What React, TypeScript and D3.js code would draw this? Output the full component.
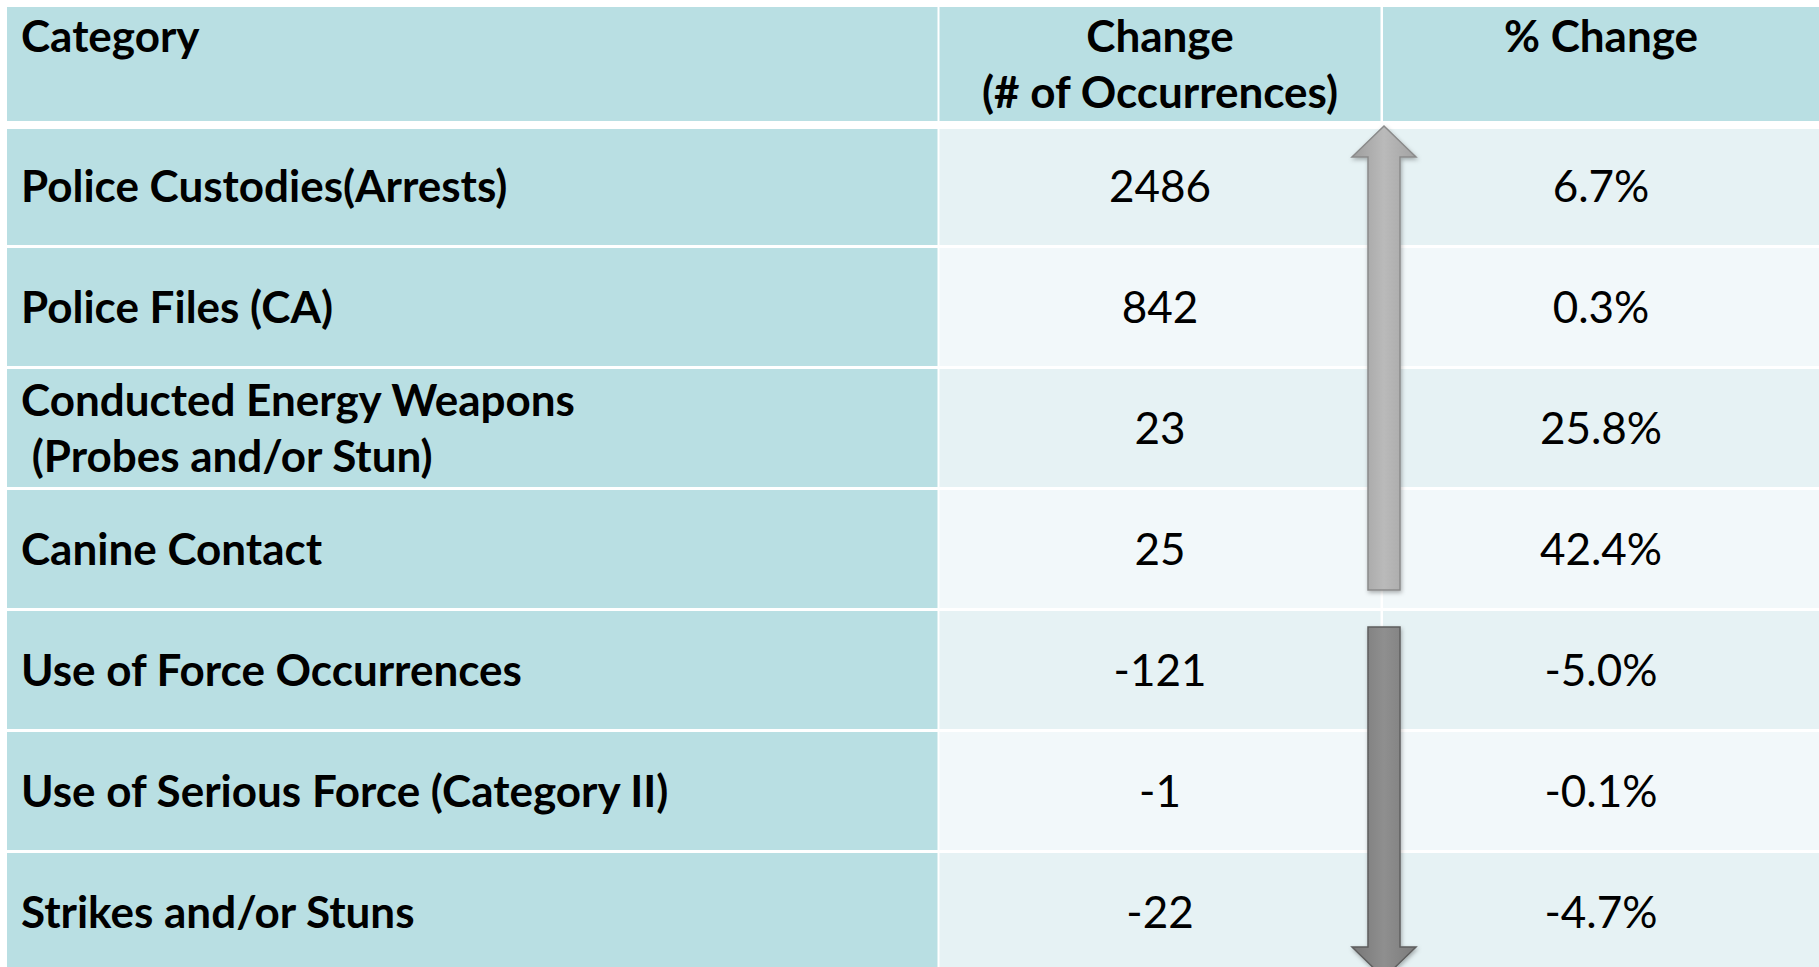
import * as d3 from 'd3'

// Table contents
const headers = ['Category', 'Change\n(# of Occurrences)', '% Change']
const categories = [
  'Police Custodies(Arrests)',
  'Police Files (CA)',
  'Conducted Energy Weapons\n (Probes and/or Stun)',
  'Canine Contact',
  'Use of Force Occurrences',
  'Use of Serious Force (Category II)',
  'Strikes and/or Stuns',
]
const changeCounts = [2486, 842, 23, 25, -121, -1, -22]
const pctChanges = [6.7, 0.3, 25.8, 42.4, -5.0, -0.1, -4.7]

const W = 1819
const H = 967
const FONT = 'Lato, "Open Sans", sans-serif'
const FS = 44
const LINE = 56
const HEAD_BASE = 51.5

// column edges (left, right)
const cols = [
  [7, 937.5],
  [939.5, 1380.5],
  [1383, 1830],
]
const headerTop = 7
const headerBottom = 121
const bodyTop = 129

const teal = '#b9dfe3'
const rowA = '#e6f2f4'
const rowB = '#f2f8fa'

function lines(s: string) {
  return s.split('\n')
}

export default function App() {
  const y = d3.scaleBand<string>()
    .domain(categories)
    .range([125.5, 125.5 + 121 * categories.length])
    .padding(0)
  const bw = y.bandwidth()

  const rows = categories.map((c, i) => ({
    c, i, change: changeCounts[i], pct: pctChanges[i],
  }))

  // arrows: one spanning the increases, one spanning the decreases
  const ups = rows.filter(r => r.pct >= 0)
  const downs = rows.filter(r => r.pct < 0)
  const cx = 1384
  const shaftHalf = 16
  const headHalf = 32
  const headLen = 31

  const line = d3.line<[number, number]>()
  const upTip = y(ups[0].c)! + 0.5
  const upEnd = y(ups[ups.length - 1].c)! + bw - 19.5
  const upPath = line([
    [cx, upTip], [cx + headHalf, upTip + headLen], [cx + shaftHalf, upTip + headLen],
    [cx + shaftHalf, upEnd], [cx - shaftHalf, upEnd], [cx - shaftHalf, upTip + headLen],
    [cx - headHalf, upTip + headLen],
  ]) + 'Z'
  const dnStart = y(downs[0].c)! + 17.5
  const dnBase = y(downs[downs.length - 1].c)! + 95.5
  const dnPath = line([
    [cx - shaftHalf, dnStart], [cx + shaftHalf, dnStart], [cx + shaftHalf, dnBase],
    [cx + headHalf, dnBase], [cx, dnBase + headLen], [cx - headHalf, dnBase],
    [cx - shaftHalf, dnBase],
  ]) + 'Z'

  const fmtPct = (v: number) => `${v.toFixed(1)}%`

  const textBlock = (s: string, x: number, midY: number, anchor: string, weight: number, key: string) => {
    const ls = lines(s)
    const first = midY - ((ls.length - 1) * LINE) / 2 + FS * 0.34
    return (
      <text key={key} x={x} y={first} textAnchor={anchor} fontFamily={FONT} fontSize={FS}
        fontWeight={weight} fill="#000" xmlSpace="preserve" style={{ whiteSpace: 'pre' }}>
        {ls.map((l, j) => (
          <tspan key={j} x={x} y={first + j * LINE}>{l}</tspan>
        ))}
      </text>
    )
  }

  return (
    <svg width={W} height={H} style={{ position: 'absolute', left: 0, top: 0, background: '#fff' }}>
      <defs>
        <linearGradient id="gUp" x1="0" x2="1" y1="0" y2="0">
          <stop offset="0" stopColor="#9d9d9d" />
          <stop offset="0.5" stopColor="#bababa" />
          <stop offset="1" stopColor="#a2a2a2" />
        </linearGradient>
        <linearGradient id="gDn" x1="0" x2="1" y1="0" y2="0">
          <stop offset="0" stopColor="#777" />
          <stop offset="0.5" stopColor="#8f8f8f" />
          <stop offset="1" stopColor="#7b7b7b" />
        </linearGradient>
        <filter id="shadow" x="-50%" y="-10%" width="200%" height="120%">
          <feDropShadow dx="1" dy="2" stdDeviation="2" floodColor="#000" floodOpacity="0.3" />
        </filter>
      </defs>
      <rect x={0} y={0} width={W} height={H} fill="#fff" />

      {/* header */}
      {headers.map((h, k) => (
        <rect key={'h' + k} x={cols[k][0]} y={headerTop} width={cols[k][1] - cols[k][0]}
          height={headerBottom - headerTop} fill={teal} />
      ))}
      {headers.map((h, k) => {
        const ls = lines(h)
        const x = k === 0 ? 21 : k === 1 ? (cols[1][0] + cols[1][1]) / 2 : 1601
        return (
          <text key={'ht' + k} x={x} y={HEAD_BASE} textAnchor={k === 0 ? 'start' : 'middle'}
            fontFamily={FONT} fontSize={FS} fontWeight={700} fill="#000">
            {ls.map((l, j) => <tspan key={j} x={x} y={HEAD_BASE + j * LINE}>{l}</tspan>)}
          </text>
        )
      })}

      {/* body rows */}
      {rows.map(r => {
        const top = Math.max(y(r.c)! + 1.5, bodyTop)
        const bottom = y(r.c)! + bw - 1.5
        const fill = r.i % 2 === 0 ? rowA : rowB
        const mid = y(r.c)! + bw / 2 + 1
        return (
          <g key={r.c}>
            <rect x={cols[0][0]} y={top} width={cols[0][1] - cols[0][0]} height={bottom - top} fill={teal} />
            <rect x={cols[1][0]} y={top} width={cols[1][1] - cols[1][0]} height={bottom - top} fill={fill} />
            <rect x={cols[2][0]} y={top} width={cols[2][1] - cols[2][0]} height={bottom - top} fill={fill} />
            {textBlock(r.c, 21, mid, 'start', 700, 'c' + r.i)}
            {textBlock(String(r.change), (cols[1][0] + cols[1][1]) / 2, mid, 'middle', 400, 'v' + r.i)}
            {textBlock(fmtPct(r.pct), 1601, mid, 'middle', 400, 'p' + r.i)}
          </g>
        )
      })}

      {/* arrows */}
      <path d={upPath} fill="url(#gUp)" stroke="#8a8a8a" strokeWidth={1.5} filter="url(#shadow)" />
      <path d={dnPath} fill="url(#gDn)" stroke="#5e5e5e" strokeWidth={1.5} filter="url(#shadow)" />
    </svg>
  )
}
